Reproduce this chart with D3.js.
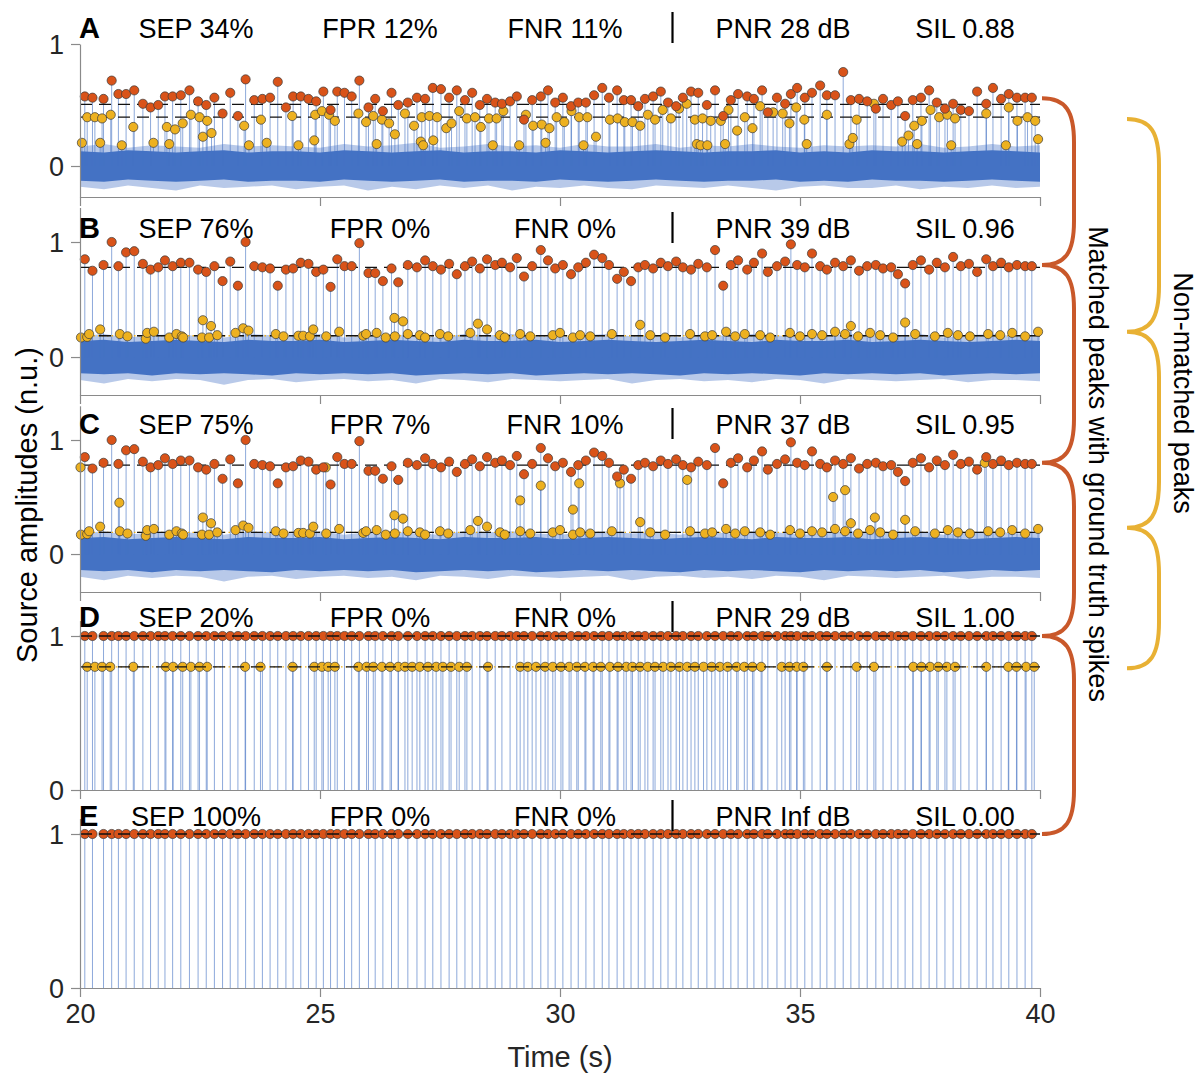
<!DOCTYPE html>
<html><head><meta charset="utf-8">
<script src="https://cdn.jsdelivr.net/npm/d3@7"></script>
<style>
body{margin:0;background:#fff}
svg{display:block}
text{font-family:"Liberation Sans",Arial,Helvetica,sans-serif}
</style>
</head><body>
<svg id="c" width="1200" height="1074"></svg>
<script>
// ---------------- DATA ----------------
const panelLetters = ['A','B','C','D','E'];
const sepVals = ['SEP 34%','SEP 76%','SEP 75%','SEP 20%','SEP 100%'];
const fprVals = ['FPR 12%','FPR 0%','FPR 7%','FPR 0%','FPR 0%'];
const fnrVals = ['FNR 11%','FNR 0%','FNR 10%','FNR 0%','FNR 0%'];
const pnrVals = ['PNR 28 dB','PNR 39 dB','PNR 37 dB','PNR 29 dB','PNR Inf dB'];
const silVals = ['SIL 0.88','SIL 0.96','SIL 0.95','SIL 1.00','SIL 0.00'];
const xTicks = [20,25,30,35,40];
const yTicks = [0,1];

// ground-truth spike times (s)
const spikeTimes = [20.10,20.26,20.49,20.66,20.80,20.96,21.13,21.31,21.47,21.63,
21.77,21.93,22.10,22.28,22.46,22.63,22.80,22.97,23.13,23.29,
23.45,23.63,23.80,23.96,24.12,24.29,24.44,24.60,24.76,24.92,
25.07,25.22,25.36,25.51,25.66,25.82,26.01,26.15,26.31,26.49,
26.63,26.83,27.02,27.19,27.35,27.52,27.69,27.85,28.02,28.17,
28.33,28.48,28.65,28.79,28.96,29.10,29.25,29.42,29.60,29.75,
29.90,30.06,30.23,30.38,30.54,30.71,30.88,31.02,31.19,31.33,
31.48,31.63,31.77,31.94,32.10,32.25,32.42,32.56,32.73,32.88,
33.06,33.23,33.40,33.56,33.71,33.90,34.04,34.21,34.33,34.52,
34.69,34.81,34.94,35.10,35.25,35.42,35.56,35.73,35.90,36.06,
36.23,36.40,36.58,36.73,36.90,37.04,37.19,37.35,37.52,37.69,
37.85,38.02,38.19,38.35,38.52,38.69,38.88,39.02,39.19,39.35,
39.52,39.69,39.83];

// matched peak amplitudes, panel A
const matchedA = [0.57,0.56,0.55,0.70,0.59,0.59,0.62,0.51,0.48,0.50,
0.57,0.57,0.58,0.62,0.53,0.50,0.56,0.43,0.60,0.41,
0.71,0.54,0.55,0.56,0.69,0.48,0.57,0.57,0.55,0.53,
0.61,0.46,0.61,0.60,0.57,0.70,0.48,0.55,0.45,0.60,
0.50,0.52,0.56,0.55,0.64,0.63,0.56,0.62,0.54,0.60,
0.50,0.55,0.52,0.51,0.53,0.57,0.38,0.54,0.57,0.62,
0.52,0.56,0.49,0.52,0.52,0.58,0.64,0.56,0.62,0.54,
0.54,0.49,0.55,0.57,0.61,0.52,0.49,0.56,0.61,0.60,
0.50,0.62,0.41,0.54,0.59,0.57,0.55,0.62,0.44,0.56,
0.51,0.59,0.64,0.56,0.60,0.66,0.58,0.58,0.77,0.54,
0.55,0.53,0.47,0.55,0.50,0.53,0.41,0.54,0.56,0.62,
0.52,0.47,0.51,0.46,0.45,0.61,0.51,0.64,0.55,0.59,
0.56,0.56,0.56];

// matched peak amplitudes, panels B and C
const matchedBC = [0.85,0.75,0.80,1.00,0.79,0.91,0.92,0.81,0.76,0.78,
0.84,0.79,0.82,0.82,0.76,0.74,0.79,0.66,0.83,0.62,
1.00,0.79,0.78,0.77,0.62,0.76,0.77,0.82,0.81,0.74,
0.76,0.61,0.85,0.79,0.79,0.99,0.73,0.73,0.66,0.77,
0.65,0.80,0.78,0.84,0.79,0.76,0.81,0.72,0.79,0.83,
0.77,0.85,0.80,0.82,0.78,0.86,0.70,0.79,0.93,0.84,
0.77,0.80,0.72,0.78,0.82,0.89,0.86,0.80,0.68,0.74,
0.66,0.78,0.80,0.77,0.82,0.79,0.83,0.78,0.76,0.81,
0.78,0.93,0.62,0.80,0.84,0.76,0.82,0.90,0.74,0.79,
0.83,0.98,0.80,0.78,0.90,0.79,0.76,0.82,0.79,0.84,
0.75,0.79,0.80,0.77,0.78,0.72,0.64,0.80,0.84,0.76,
0.82,0.78,0.87,0.79,0.81,0.74,0.85,0.79,0.82,0.78,
0.80,0.79,0.79];

// non-matched peaks, panel A
const nonA_t = [20.04,20.15,20.31,20.42,20.46,20.64,20.87,21.11,21.53,21.81,21.86,21.98,22.14,22.31,22.49,22.56,22.65,22.74,23.42,23.52,23.77,23.89,24.42,24.55,24.88,24.90,25.04,25.19,25.31,25.80,25.96,26.11,26.18,26.29,26.44,26.56,
26.77,26.96,27.10,27.12,27.15,27.28,27.36,27.44,27.63,27.74,27.90,28.06,28.23,28.35,28.52,28.60,28.68,28.82,29.15,29.29,29.44,29.62,29.70,29.78,29.93,30.09,30.24,30.40,30.49,30.57,30.75,31.04,31.20,31.35,31.51,31.67,31.83,31.98,32.14,32.31,32.48,32.64,32.81,32.85,32.93,32.97,33.07,33.14,33.35,33.44,33.51,33.69,33.85,34.01,34.17,34.44,34.64,34.78,34.92,
35.09,35.14,35.56,36.03,36.10,36.18,36.54,37.13,37.26,37.38,37.44,37.54,37.72,37.90,38.07,38.15,38.23,38.88,39.29,39.35,39.53,39.74,39.90,39.96];
const nonA_a = [0.19,0.40,0.40,0.19,0.39,0.42,0.17,0.32,0.19,0.32,0.18,0.30,0.35,0.42,0.40,0.24,0.37,0.27,0.33,0.17,0.38,0.19,0.41,0.17,0.21,0.42,0.45,0.42,0.37,0.43,0.36,0.41,0.18,0.38,0.35,0.26,
0.43,0.33,0.20,0.40,0.17,0.41,0.21,0.40,0.31,0.35,0.45,0.39,0.40,0.32,0.39,0.17,0.39,0.45,0.17,0.42,0.33,0.34,0.19,0.31,0.40,0.36,0.45,0.40,0.17,0.40,0.24,0.38,0.39,0.36,0.36,0.33,0.42,0.38,0.46,0.39,0.47,0.51,0.38,0.18,0.17,0.39,0.17,0.37,0.37,0.18,0.46,0.29,0.40,0.31,0.49,0.44,0.43,0.35,0.48,
0.38,0.18,0.42,0.18,0.23,0.38,0.51,0.20,0.25,0.33,0.18,0.37,0.46,0.40,0.42,0.17,0.39,0.43,0.17,0.48,0.37,0.40,0.37,0.22];

// non-matched peaks, panel B (also present in C)
const nonB_t = [20.02,20.15,20.19,20.42,20.83,20.99,21.37,21.40,21.54,21.86,22.01,22.12,22.15,22.54,22.56,22.69,22.73,22.86,23.24,23.40,23.51,24.08,24.24,24.55,24.65,24.79,24.86,25.13,25.40,25.90,25.96,26.18,26.37,26.55,26.56,
26.73,26.83,27.08,27.19,27.50,27.67,28.13,28.29,28.48,28.75,28.85,29.17,29.38,29.85,30.00,30.27,30.42,30.63,31.08,31.67,31.88,32.19,32.71,33.02,33.17,33.46,33.65,33.85,34.17,34.38,34.79,35.00,35.25,35.46,35.73,35.94,36.06,36.21,36.46,36.67,36.94,37.19,37.40,37.81,38.08,38.29,38.54,38.92,39.17,39.42,39.69,39.96];
const nonB_a = [0.17,0.175,0.20,0.24,0.20,0.18,0.16,0.21,0.22,0.17,0.20,0.18,0.17,0.17,0.32,0.17,0.27,0.19,0.21,0.25,0.23,0.20,0.18,0.185,0.185,0.18,0.24,0.18,0.22,0.185,0.20,0.21,0.17,0.34,0.18,
0.31,0.20,0.19,0.17,0.20,0.18,0.21,0.29,0.24,0.19,0.17,0.20,0.18,0.19,0.21,0.17,0.19,0.18,0.20,0.28,0.19,0.17,0.20,0.18,0.19,0.22,0.18,0.20,0.19,0.17,0.21,0.18,0.20,0.19,0.22,0.20,0.27,0.18,0.21,0.19,0.17,0.30,0.20,0.18,0.21,0.19,0.18,0.20,0.19,0.21,0.18,0.22];

// extra non-matched peaks only in panel C
const nonCextra_t = [20.01,20.82,25.12,29.17,29.60,30.27,30.40,31.25,32.65,35.69,35.94,36.56,38.85];
const nonCextra_a = [0.76,0.45,0.76,0.47,0.60,0.39,0.62,0.62,0.65,0.50,0.56,0.32,0.80];

// non-matched peaks, panel D (all at 0.8)
const nonD_t = [20.15,20.31,20.46,20.63,21.11,21.79,21.94,22.14,22.31,22.49,22.65,23.44,23.76,24.43,24.88,25.04,25.17,25.31,25.80,25.97,26.11,26.29,26.46,26.63,26.77,26.92,27.08,27.25,27.42,27.56,27.73,27.90,28.06,28.50,29.17,29.33,29.50,29.69,29.85,30.02,30.19,30.35,30.52,30.69,30.85,31.04,31.21,31.38,31.51,31.67,31.83,31.98,32.15,32.31,32.49,32.65,32.81,32.99,33.16,33.33,33.49,33.68,33.84,34.01,34.19,34.62,34.78,34.93,35.07,35.56,36.18,36.54,37.36,37.53,37.71,37.88,38.06,38.23,38.88,39.34,39.51,39.71,39.88];
const nonD_amp = 0.8;
const matchedDE_amp = 1.0;

// dashed mean levels [matched, non-matched]
const levelsMatched = [0.505,0.78,0.78,1.0,1.0];
const levelsNon = [0.40,0.185,0.19,0.8,null];
// brace anchor levels
const braceMatched = [0.555,0.80,0.80,1.00,1.00];
const braceNon = [0.385,0.22,0.23,0.79];

// noise envelopes (sampled every 0.5 s)
const noiseT = [20,20.5,21,21.5,22,22.5,23,23.5,24,24.5,25,25.5,26,26.5,27,27.5,28,28.5,29,29.5,30,30.5,31,31.5,32,32.5,33,33.5,34,34.5,35,35.5,36,36.5,37,37.5,38,38.5,39,39.5,40];
const noiseA_outHi = [0.16,0.18,0.15,0.17,0.16,0.15,0.18,0.16,0.17,0.16,0.15,0.18,0.16,0.17,0.19,0.15,0.16,0.18,0.16,0.17,0.15,0.18,0.16,0.16,0.18,0.15,0.17,0.16,0.18,0.16,0.15,0.17,0.16,0.17,0.16,0.18,0.15,0.16,0.18,0.16,0.17];
const noiseA_outLo = [-0.17,-0.19,-0.16,-0.18,-0.20,-0.16,-0.18,-0.17,-0.16,-0.19,-0.17,-0.16,-0.20,-0.17,-0.19,-0.16,-0.18,-0.16,-0.20,-0.17,-0.18,-0.16,-0.18,-0.19,-0.16,-0.17,-0.18,-0.16,-0.18,-0.20,-0.17,-0.16,-0.18,-0.18,-0.16,-0.19,-0.17,-0.18,-0.16,-0.18,-0.17];
const noiseA_inHi = [0.12,0.11,0.13,0.12,0.11,0.12,0.13,0.11,0.12,0.12,0.11,0.13,0.12,0.11,0.12,0.13,0.11,0.12,0.12,0.11,0.13,0.12,0.11,0.12,0.13,0.12,0.11,0.12,0.12,0.13,0.11,0.12,0.11,0.13,0.12,0.12,0.11,0.12,0.13,0.12,0.11];
const noiseA_inLo = [-0.12,-0.13,-0.11,-0.12,-0.13,-0.12,-0.11,-0.13,-0.12,-0.12,-0.13,-0.11,-0.12,-0.13,-0.12,-0.11,-0.13,-0.12,-0.12,-0.13,-0.11,-0.12,-0.13,-0.12,-0.11,-0.12,-0.13,-0.12,-0.12,-0.11,-0.13,-0.12,-0.13,-0.11,-0.12,-0.12,-0.13,-0.12,-0.11,-0.12,-0.13];
const noiseBC_outHi = [0.18,0.20,0.17,0.19,0.20,0.18,0.17,0.20,0.19,0.18,0.20,0.17,0.19,0.20,0.18,0.17,0.20,0.19,0.20,0.18,0.17,0.19,0.20,0.18,0.19,0.17,0.20,0.18,0.20,0.19,0.17,0.18,0.20,0.19,0.18,0.20,0.17,0.19,0.20,0.18,0.19];
const noiseBC_outLo = [-0.20,-0.23,-0.19,-0.21,-0.19,-0.20,-0.24,-0.20,-0.19,-0.22,-0.20,-0.19,-0.21,-0.20,-0.23,-0.19,-0.20,-0.22,-0.19,-0.20,-0.21,-0.20,-0.19,-0.23,-0.20,-0.19,-0.21,-0.20,-0.22,-0.19,-0.20,-0.23,-0.19,-0.20,-0.21,-0.20,-0.19,-0.22,-0.20,-0.20,-0.21];
const noiseBC_inHi = [0.14,0.15,0.13,0.14,0.15,0.14,0.13,0.15,0.14,0.14,0.15,0.13,0.14,0.15,0.14,0.13,0.15,0.14,0.14,0.15,0.13,0.14,0.15,0.14,0.13,0.14,0.15,0.14,0.13,0.15,0.14,0.14,0.15,0.13,0.14,0.15,0.14,0.13,0.14,0.15,0.14];
const noiseBC_inLo = [-0.14,-0.15,-0.14,-0.16,-0.14,-0.15,-0.14,-0.15,-0.16,-0.14,-0.15,-0.14,-0.15,-0.14,-0.16,-0.15,-0.14,-0.15,-0.14,-0.16,-0.15,-0.14,-0.15,-0.14,-0.15,-0.16,-0.14,-0.15,-0.14,-0.15,-0.16,-0.14,-0.15,-0.14,-0.15,-0.14,-0.16,-0.15,-0.14,-0.15,-0.14];

// ---------------- STYLE / LAYOUT ----------------
const C_RED = '#D95319', C_YEL = '#EDB120', C_BLUE = '#4472C4';
const C_BRACE_RED = '#C9582A', C_BRACE_YEL = '#E8B134';
const AX = '#8a8a8a', TXT = '#262626';
const FS = 27;

const layout = [
  {dom:[-0.254,1], rng:[197,44], base:38},
  {dom:[-0.33,1.3], rng:[395,207.5], base:238},
  {dom:[-0.333,1.3], rng:[592,405.8], base:434},
  {dom:[0,1.1], rng:[790,620.6], base:627},
  {dom:[0,1.1], rng:[988,818.6], base:826}
];

const svg = d3.select('#c');
const x = d3.scaleLinear().domain([20,40]).range([80,1040]);

function pairs(ts, as){ const n=Math.min(ts.length, as.length); const out=[]; for(let i=0;i<n;i++) out.push({t:ts[i], a:as[i]}); return out; }
function constPairs(ts, a){ return ts.map(t=>({t, a})); }

const noiseSets = [
  {oh:noiseA_outHi, ol:noiseA_outLo, ih:noiseA_inHi, il:noiseA_inLo},
  {oh:noiseBC_outHi, ol:noiseBC_outLo, ih:noiseBC_inHi, il:noiseBC_inLo},
  {oh:noiseBC_outHi, ol:noiseBC_outLo, ih:noiseBC_inHi, il:noiseBC_inLo},
  null, null
];
const matchedSets = [
  pairs(spikeTimes, matchedA),
  pairs(spikeTimes, matchedBC),
  pairs(spikeTimes, matchedBC),
  constPairs(spikeTimes, matchedDE_amp),
  constPairs(spikeTimes, matchedDE_amp)
];
const nonSets = [
  pairs(nonA_t, nonA_a),
  pairs(nonB_t, nonB_a),
  pairs(nonB_t, nonB_a).concat(pairs(nonCextra_t, nonCextra_a)),
  constPairs(nonD_t, nonD_amp),
  []
];

const yScales = [];
layout.forEach((L, i) => {
  const y = d3.scaleLinear().domain(L.dom).range(L.rng);
  yScales.push(y);
  const g = svg.append('g');

  // noise
  const ns = noiseSets[i];
  if (ns) {
    const outer = d3.area().x((d,k)=>x(noiseT[k])).y0((d,k)=>y(ns.ol[k])).y1((d,k)=>y(ns.oh[k]));
    const inner = d3.area().x((d,k)=>x(noiseT[k])).y0((d,k)=>y(ns.il[k])).y1((d,k)=>y(ns.ih[k]));
    g.append('path').attr('d', outer(noiseT)).attr('fill', C_BLUE).attr('opacity', 0.38);
    g.append('path').attr('d', inner(noiseT)).attr('fill', C_BLUE);
  }

  // stems
  const all = matchedSets[i].concat(nonSets[i]);
  g.append('g').selectAll('line').data(all).join('line')
    .attr('x1', d=>x(d.t)).attr('x2', d=>x(d.t))
    .attr('y1', y(0)).attr('y2', d=>y(d.a))
    .attr('stroke', C_BLUE).attr('stroke-width', 1).attr('opacity', 0.6);

  const lineLayer = () => {
    if (levelsNon[i] !== null) {
      if (i >= 1) {
        g.append('line').attr('x1', x(20)).attr('x2', x(40))
          .attr('y1', y(levelsNon[i])).attr('y2', y(levelsNon[i]))
          .attr('stroke', C_YEL).attr('stroke-width', 1.3).attr('stroke-dasharray', '1.5,3');
      }
      g.append('line').attr('x1', x(20)).attr('x2', x(40))
        .attr('y1', y(levelsNon[i])).attr('y2', y(levelsNon[i]))
        .attr('stroke', '#111').attr('stroke-width', 1.3).attr('stroke-dasharray', '12,7');
    }
    g.append('line').attr('x1', x(20)).attr('x2', x(40))
      .attr('y1', y(levelsMatched[i])).attr('y2', y(levelsMatched[i]))
      .attr('stroke', '#111').attr('stroke-width', 1.3).attr('stroke-dasharray', '12,7');
  };

  if (i < 3) lineLayer();

  // circles
  g.append('g').selectAll('circle').data(nonSets[i]).join('circle')
    .attr('cx', d=>x(d.t)).attr('cy', d=>y(d.a)).attr('r', 4.6)
    .attr('fill', C_YEL).attr('stroke', '#3a3a3a').attr('stroke-width', 0.7);
  g.append('g').selectAll('circle').data(matchedSets[i]).join('circle')
    .attr('cx', d=>x(d.t)).attr('cy', d=>y(d.a)).attr('r', 4.6)
    .attr('fill', C_RED).attr('stroke', '#3a3a3a').attr('stroke-width', 0.7);

  if (i >= 3) lineLayer();

  // axes
  const xa = d3.axisBottom(x).tickValues(xTicks).tickSize(9).tickSizeOuter(0)
    .tickFormat(i === 4 ? d3.format('d') : () => '');
  const gx = g.append('g').attr('transform', `translate(0,${L.rng[0]})`).call(xa);
  const ya = d3.axisLeft(y).tickValues(yTicks).tickSize(9).tickSizeOuter(0).tickFormat(d3.format('d'));
  const gy = g.append('g').attr('transform', `translate(80,0)`).call(ya);
  [gx, gy].forEach(a => {
    a.select('.domain').attr('stroke', AX).attr('stroke-width', 1.2);
    a.selectAll('.tick line').attr('stroke', AX).attr('stroke-width', 1.2);
    a.selectAll('.tick text').attr('fill', TXT).style('font-size', FS + 'px')
      .style('font-family', '"Liberation Sans",Arial,sans-serif');
  });
  gy.selectAll('.tick text').attr('x', -16).attr('dy', '0.36em');
  gx.selectAll('.tick text').attr('y', 0).attr('dy', null)
    .attr('transform', 'translate(0,35)');

  // labels
  g.append('text').attr('x', 79).attr('y', L.base).text(panelLetters[i])
    .attr('font-weight', 'bold').style('font-size', '29px').attr('fill', '#000');
  const stats = [[sepVals[i],196],[fprVals[i],380],[fnrVals[i],565],[pnrVals[i],783],[silVals[i],965]];
  stats.forEach(([s, cx]) => {
    g.append('text').attr('x', cx).attr('y', L.base).attr('text-anchor', 'middle')
      .style('font-size', FS + 'px').attr('fill', '#000').text(s);
  });
  g.append('line').attr('x1', 672.5).attr('x2', 672.5)
    .attr('y1', L.base - 26).attr('y2', L.base + 5)
    .attr('stroke', '#000').attr('stroke-width', 2.2);
});

// axis titles
svg.append('text').attr('x', 560).attr('y', 1067).attr('text-anchor', 'middle')
  .style('font-size', '29px').attr('fill', TXT).text('Time (s)');
svg.append('text').attr('transform', 'translate(27,505) rotate(-90)').attr('dy', '0.36em')
  .attr('text-anchor', 'middle').style('font-size', '29px').attr('fill', '#000')
  .text('Source amplitudes (n.u.)');

// braces
function bracePath(x0, xb, ys, r) {
  let p = `M${x0},${ys[0]}`;
  for (let k = 0; k < ys.length - 1; k++) {
    const ya = ys[k], yb = ys[k+1];
    const cx = x0 + 0.75 * (xb - x0);
    p += ` C${cx},${ya} ${xb},${ya + 0.3*r} ${xb},${ya + r}`;
    p += ` L${xb},${yb - r}`;
    p += ` C${xb},${yb - 0.3*r} ${cx},${yb} ${x0},${yb}`;
  }
  return p;
}
const redYs = braceMatched.map((v, i) => yScales[i](v));
const yelYs = braceNon.map((v, i) => yScales[i](v));
svg.append('path').attr('d', bracePath(1042, 1074, redYs, 44))
  .attr('fill', 'none').attr('stroke', C_BRACE_RED).attr('stroke-width', 4);
svg.append('path').attr('d', bracePath(1127, 1159, yelYs, 46))
  .attr('fill', 'none').attr('stroke', C_BRACE_YEL).attr('stroke-width', 4);

svg.append('text').attr('transform', 'translate(1099,464) rotate(90)').attr('dy', '0.36em')
  .attr('text-anchor', 'middle').style('font-size', '27px').attr('fill', '#000')
  .text('Matched peaks with ground truth spikes');
svg.append('text').attr('transform', 'translate(1184,393) rotate(90)').attr('dy', '0.36em')
  .attr('text-anchor', 'middle').style('font-size', '27px').attr('fill', '#000')
  .text('Non-matched peaks');
</script>
</body></html>
